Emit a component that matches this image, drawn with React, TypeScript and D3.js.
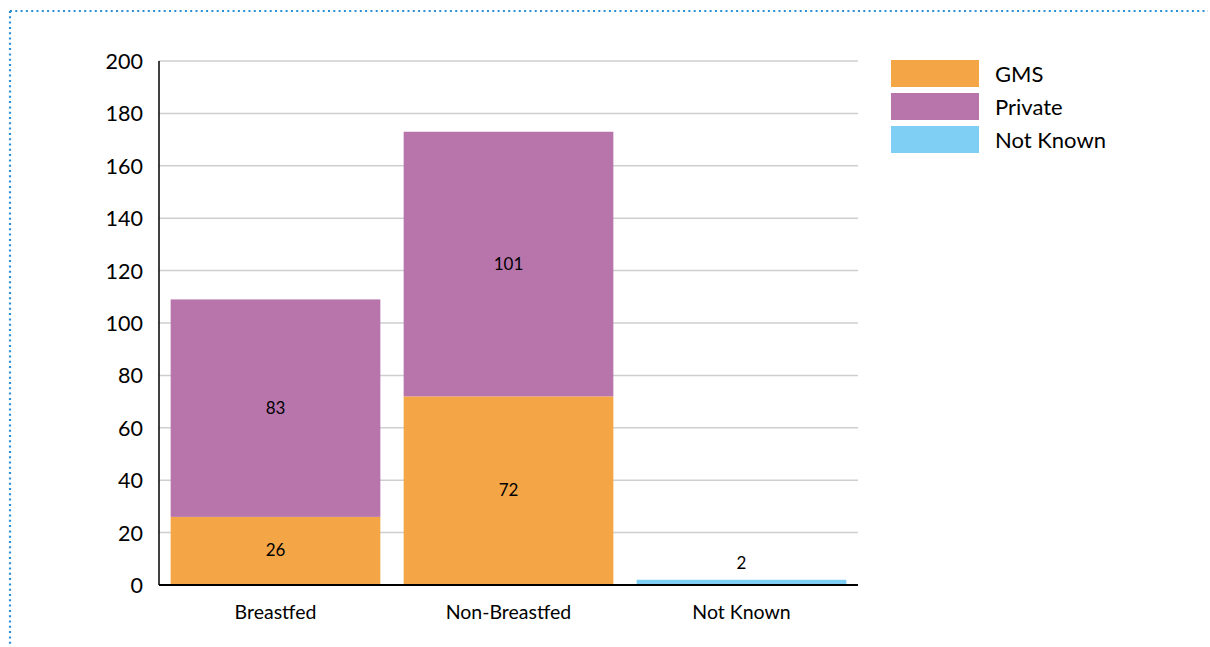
import React from "react";
import * as d3 from "d3";

const categories = ["Breastfed", "Non-Breastfed", "Not Known"];
const seriesNames = ["GMS", "Private", "Not Known"];
const gmsValues = [26, 72, 0];
const privateValues = [83, 101, 0];
const notKnownValues = [0, 0, 2];
const seriesColors = ["#F4A647", "#B875AC", "#7FCFF4"];
const yTicks = [0, 20, 40, 60, 80, 100, 120, 140, 160, 180, 200];

const W = 1210;
const H = 647;
const left = 159;
const right = 858;
const top = 61;
const bottom = 585;
const FONT = "Lato, 'Open Sans', sans-serif";

export default function App() {
  const x = d3.scaleBand<string>().domain(categories).range([left, right]).paddingInner(0.1).paddingOuter(0.05);
  const y = d3.scaleLinear().domain([0, 200]).range([bottom, top]);

  const table = categories.map((c, i) => ({
    cat: c,
    GMS: gmsValues[i],
    Private: privateValues[i],
    "Not Known": notKnownValues[i],
  }));
  const stacked = d3.stack<any>().keys(seriesNames)(table);

  return (
    <svg width={W} height={H} style={{ position: "absolute", left: 0, top: 0 }} fontFamily={FONT}>
      <rect width={W} height={H} fill="#fff" />
      {/* dotted frame */}
      <line x1={10} y1={11} x2={1208} y2={11} stroke="#2A8FD6" strokeWidth={2.2} strokeDasharray="2 3.3" />
      <line x1={10} y1={11} x2={10} y2={647} stroke="#2A8FD6" strokeWidth={2.2} strokeDasharray="2 3.3" />
      {/* gridlines */}
      {yTicks.map((t) => (
        <line key={t} x1={left} x2={right} y1={y(t)} y2={y(t)} stroke="#CFCFCF" strokeWidth={1.5} />
      ))}
      {/* bars */}
      {stacked.map((s, si) =>
        s.map((d, i) => {
          const h = y(d[0]) - y(d[1]);
          if (h <= 0) return null;
          return (
            <rect
              key={si + "-" + i}
              x={x(categories[i])}
              width={x.bandwidth()}
              y={y(d[1])}
              height={h}
              fill={seriesColors[si]}
            />
          );
        })
      )}
      {/* data labels */}
      {stacked.map((s, si) =>
        s.map((d, i) => {
          const v = d[1] - d[0];
          if (v <= 0) return null;
          const cx = (x(categories[i]) as number) + x.bandwidth() / 2;
          const small = y(d[0]) - y(d[1]) < 20;
          const cy = small ? y(d[1]) - 17 : y((d[0] + d[1]) / 2) - 1;
          return (
            <text key={"l" + si + "-" + i} x={cx} y={cy} textAnchor="middle" dominantBaseline="central" fontSize={17} fill="#000">
              {v}
            </text>
          );
        })
      )}
      {/* axes */}
      <line x1={left} x2={left} y1={top} y2={bottom} stroke="#000" strokeWidth={1.5} />
      <line x1={left} x2={right} y1={bottom} y2={bottom} stroke="#000" strokeWidth={2} />
      {yTicks.map((t) => (
        <text key={"t" + t} x={143} y={y(t)} textAnchor="end" dominantBaseline="central" fontSize={21.5} fill="#000">
          {t}
        </text>
      ))}
      {categories.map((c) => (
        <text key={c} x={(x(c) as number) + x.bandwidth() / 2} y={611} textAnchor="middle" dominantBaseline="central" fontSize={19.5} fill="#000">
          {c}
        </text>
      ))}
      {/* legend */}
      {seriesNames.map((n, i) => (
        <g key={n} transform={`translate(891, ${60 + i * 33})`}>
          <rect width={88} height={27} fill={seriesColors[i]} />
          <text x={104} y={13} dominantBaseline="central" fontSize={22} fill="#000">
            {n}
          </text>
        </g>
      ))}
    </svg>
  );
}
